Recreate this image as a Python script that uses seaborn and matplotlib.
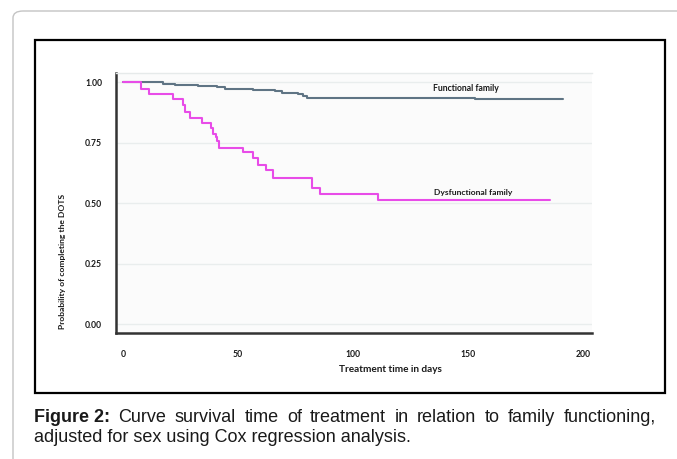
import matplotlib
matplotlib.use("Agg")
import matplotlib.pyplot as plt
import seaborn as sns
import pandas as pd
import numpy as np
from matplotlib.patches import FancyBboxPatch, Rectangle

# ---- data (step survival curves) ----
func_days = [0, 17.5, 22.6, 32.7, 40.7, 44.3, 56.4, 66.1, 69.0, 76.2, 78.1, 80.1, 153.0, 191.4]
func_surv = [1.0, 0.995, 0.990, 0.986, 0.982, 0.974, 0.968, 0.963, 0.957, 0.951, 0.944, 0.934, 0.929, 0.929]

dys_days = [0, 7.8, 11.4, 21.9, 25.9, 27.0, 29.1, 34.2, 38.3, 39.3, 40.4, 41.0, 41.9, 52.3,
            56.7, 58.6, 62.2, 65.3, 82.0, 85.7, 110.7, 185.7]
dys_surv = [1.0, 0.972, 0.951, 0.929, 0.905, 0.878, 0.853, 0.832, 0.809, 0.788, 0.774, 0.756,
            0.730, 0.712, 0.685, 0.660, 0.639, 0.604, 0.564, 0.539, 0.515, 0.515]

group_names = ["Functional family", "Dysfunctional family"]
x_ticks = [0, 50, 100, 150, 200]
y_ticks = [0.00, 0.25, 0.50, 0.75, 1.00]
y_tick_labels = ["0.00", "0.25", "0.50", "0.75", "1.00"]
x_label = "Treatment time in days"
y_label = "Probability of completing the DOTS"
caption_bold = "Figure 2:"
caption_line1 = "Curve survival time of treatment in relation to family functioning,"
caption_line2 = "adjusted for sex using Cox regression analysis."

df = pd.concat([
    pd.DataFrame({"day": func_days, "surv": func_surv, "group": group_names[0]}),
    pd.DataFrame({"day": dys_days, "surv": dys_surv, "group": group_names[1]}),
], ignore_index=True)

sns.set_theme(style="white")
plt.rcParams["font.family"] = ["Lato", "DejaVu Sans"]

W, H = 677, 459
fig = plt.figure(figsize=(W / 100, H / 100), dpi=100)
fig.patch.set_facecolor("white")

def fx(px):
    return px / W

def fy(py):
    return 1 - py / H

# outer rounded frame
outer = FancyBboxPatch((fx(13), fy(470)), fx(700) - fx(13), fy(11) - fy(470),
                       boxstyle="round,pad=0,rounding_size=0.015",
                       transform=fig.transFigure, facecolor="none",
                       edgecolor="#c4c4c4", linewidth=1.0, zorder=0)
fig.patches.append(outer)
# black frame around the chart
frame = Rectangle((fx(35), fy(393)), fx(665) - fx(35), fy(40) - fy(393),
                  transform=fig.transFigure, facecolor="none",
                  edgecolor="black", linewidth=1.6, zorder=1)
fig.patches.append(frame)

ax_l, ax_r, ax_t, ax_b = 116, 592, 73, 333
ax = fig.add_axes([fx(ax_l), fy(ax_b), fx(ax_r) - fx(ax_l), fy(ax_t) - fy(ax_b)])
ax.set_facecolor("#fbfbfb")

palette = {group_names[0]: "#5f7484", group_names[1]: "#e84ce8"}
sns.lineplot(data=df, x="day", y="surv", hue="group", palette=palette,
             drawstyle="steps-post", linewidth=1.5, legend=False, ax=ax,
             estimator=None, sort=False)

ax.set_xlim(-3.1, 204.0)
ax.set_ylim(-0.037, 1.0385)

for v in y_ticks:
    ax.axhline(v, color="#e9eded", linewidth=1.0, zorder=0)

ax.set_xticks(x_ticks)
ax.set_xticklabels([str(t) for t in x_ticks], fontsize=6.2, fontweight="bold", color="#1a1a1a")
ax.set_yticks(y_ticks)
ax.set_yticklabels(y_tick_labels, fontsize=6.2, fontweight="bold", color="#1a1a1a")
ax.tick_params(axis="x", direction="out", length=3, width=1.2, color="#444444", pad=9)
ax.tick_params(axis="y", direction="out", length=3, width=1.2, color="#444444", pad=7)

for side in ["left", "bottom"]:
    ax.spines[side].set_color("#333333")
    ax.spines[side].set_linewidth(1.8)
ax.spines["top"].set_color("#e6eaea")
ax.spines["top"].set_linewidth(1.0)
ax.spines["right"].set_visible(False)

ax.set_xlabel("")
ax.set_ylabel("")

fig.text(fx(390), fy(369), x_label, ha="center", va="center", fontsize=7.2,
         fontweight="bold", color="#1a1a1a")
fig.text(fx(63), fy(261), y_label, ha="center", va="center", rotation=90,
         fontsize=6.1, fontweight="bold", color="#1a1a1a")

ax.text(149.2, 0.976, group_names[0], ha="center", va="center", fontsize=6.2,
        fontweight="bold", color="#1a1a1a")
ax.text(152.3, 0.546, group_names[1], ha="center", va="center", fontsize=6.1,
        fontweight="bold", color="#1a1a1a")

# caption (justified first line)
cap_font = ["Liberation Sans", "DejaVu Sans"]
cap_size = 13.0
fig.canvas.draw()
renderer = fig.canvas.get_renderer()

def width_of(s, weight="normal"):
    t = fig.text(0, 0, s, fontsize=cap_size, family=cap_font, fontweight=weight)
    w = t.get_window_extent(renderer).width
    t.remove()
    return w

words = [caption_bold] + caption_line1.split(" ")
weights = ["bold"] + ["normal"] * (len(words) - 1)
widths = [width_of(w, wt) for w, wt in zip(words, weights)]
left_px, right_px = 34, 656
gap = (right_px - left_px - sum(widths)) / (len(words) - 1)
xpos = left_px
for w, wt, wd in zip(words, weights, widths):
    fig.text(fx(xpos), fy(417), w, fontsize=cap_size, family=cap_font,
             fontweight=wt, ha="left", va="center", color="#1a1a1a")
    xpos += wd + gap

fig.text(fx(34), fy(437), caption_line2, fontsize=cap_size, family=cap_font,
         ha="left", va="center", color="#1a1a1a")

fig.savefig("out.png", dpi=100)
